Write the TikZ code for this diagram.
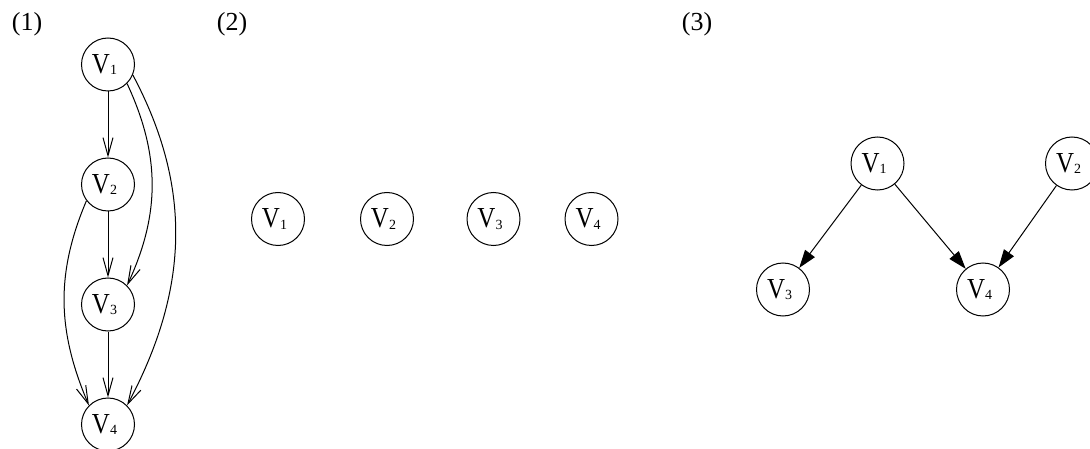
\documentclass[tikz,border=0pt]{standalone}
\usepackage{fontspec}
\setmainfont{Liberation Serif}
\usetikzlibrary{arrows.meta}
\newcommand\vlab[1]{\scalebox{0.86}[1]{V}\raisebox{-1.5pt}{\fontsize{14}{14}\selectfont #1}\kern7pt}
\begin{document}
\begin{tikzpicture}[x=1pt,y=-1pt,
  vnode/.style={draw, circle, line width=1pt, minimum size=53pt, inner sep=0pt, font=\fontsize{29}{29}\selectfont},
  barb/.style={line width=1pt, -{Straight Barb[length=18pt,width=10pt]}},
  tri/.style={line width=1pt, -{Triangle[length=18pt,width=12pt]}},
  lbl/.style={font=\fontsize{26}{26}\selectfont, inner sep=0pt}]
\useasboundingbox (0,0) rectangle (1090,449);
% labels
\node[lbl] (l1) at (27,24) {(1)};
\node[lbl] (l2) at (232,24) {(2)};
\node[lbl] (l3) at (697,24) {(3)};
% panel 1
\node[vnode] (a1) at (108,64.5) {\vlab{1}};
\node[vnode] (a2) at (108,184.5) {\vlab{2}};
\node[vnode] (a3) at (108,304.5) {\vlab{3}};
\node[vnode] (a4) at (108,424.5) {\vlab{4}};
\draw[barb] (a1) -- (a2);
\draw[barb] (a2) -- (a3);
\draw[barb] (a3) -- (a4);
\draw[barb] (a1.-45) to[out=-65,in=65] (a3.45);
\draw[barb] (a1.-23) to[out=-62,in=62] (a4.45);
\draw[barb] (a2.-143) to[out=-113,in=113] (a4.135);
% panel 2
\node[vnode] (b1) at (278,219) {\vlab{1}};
\node[vnode] (b2) at (387,219) {\vlab{2}};
\node[vnode] (b3) at (493.5,219) {\vlab{3}};
\node[vnode] (b4) at (591.5,219) {\vlab{4}};
% panel 3
\node[vnode] (c1) at (877.5,163.5) {\vlab{1}};
\node[vnode] (c2) at (1072,163.5) {\vlab{2}};
\node[vnode] (c3) at (783,289.5) {\vlab{3}};
\node[vnode] (c4) at (983,289.5) {\vlab{4}};
\draw[tri] (c1) -- (c3);
\draw[tri] (c1) -- (c4);
\draw[tri] (c2) -- (c4);
\end{tikzpicture}
\end{document}
